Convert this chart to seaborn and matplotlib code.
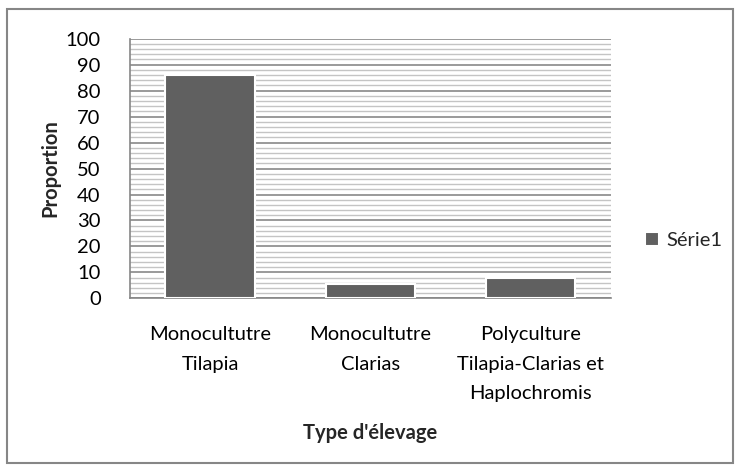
import matplotlib
matplotlib.use('Agg')
import matplotlib.pyplot as plt
from matplotlib.patches import Rectangle
from matplotlib.ticker import MultipleLocator
import seaborn as sns
import pandas as pd

# Data
categories = ['Monocultutre\nTilapia', 'Monocultutre\nClarias',
              'Polyculture\nTilapia-Clarias et\nHaplochromis']
proportions = [85.8, 5.5, 7.8]
series_name = 'Série1'

df = pd.DataFrame({"Type d'élevage": categories,
                   'Proportion': proportions,
                   'Série': series_name})

sns.set_style('white')
plt.rcParams['font.family'] = ['Lato', 'DejaVu Sans']

fig = plt.figure(figsize=(7.38, 4.72), dpi=100)
ax = fig.add_axes([0.176, 0.3676, 0.652, 0.5508])

sns.barplot(data=df, x="Type d'élevage", y='Proportion', hue='Série',
            palette=['#606060'], width=0.556, dodge=False,
            edgecolor='white', linewidth=1.5, ax=ax, zorder=3)

ax.set_ylim(0, 100)
ax.set_xlim(-0.5, 2.5)
ax.yaxis.set_major_locator(MultipleLocator(10))
ax.yaxis.set_minor_locator(MultipleLocator(2))
ax.grid(which='major', axis='y', color='#9a9a9a', linewidth=1.4, zorder=0)
ax.grid(which='minor', axis='y', color='#c4c4c4', linewidth=1.0, zorder=0)
ax.set_axisbelow(True)

for side in ['top', 'right']:
    ax.spines[side].set_visible(False)
for side in ['left', 'bottom']:
    ax.spines[side].set_color('#868686')
    ax.spines[side].set_linewidth(1.2)

ax.tick_params(axis='y', which='major', length=7, color='#868686',
               labelsize=14.5, pad=14, labelcolor='black')
ax.tick_params(axis='y', which='minor', length=0)
ax.tick_params(axis='x', which='major', length=0, labelsize=14.5, pad=20,
               labelcolor='black')
for lbl in ax.get_xticklabels():
    lbl.set_linespacing(1.9)
ax.set_xticks([-0.5, 0.5, 1.5, 2.5], minor=True)
ax.tick_params(axis='x', which='minor', length=5, color='#868686')

ax.set_ylabel('Proportion', fontsize=14.5, fontweight='bold', labelpad=4)
ax.set_xlabel("Type d'élevage", fontsize=14.5, fontweight='bold', labelpad=15)

ax.legend(loc='center left', bbox_to_anchor=(0.849, 0.49),
          bbox_transform=fig.transFigure, frameon=False, fontsize=14.5,
          handlelength=0.7, handleheight=0.7, handletextpad=0.4)

# Outer chart border
fig.patches.append(Rectangle((0.009, 0.019), 0.984, 0.961,
                             transform=fig.transFigure, fill=False,
                             edgecolor='#868686', linewidth=1.5))

fig.savefig('out.png', dpi=100)
